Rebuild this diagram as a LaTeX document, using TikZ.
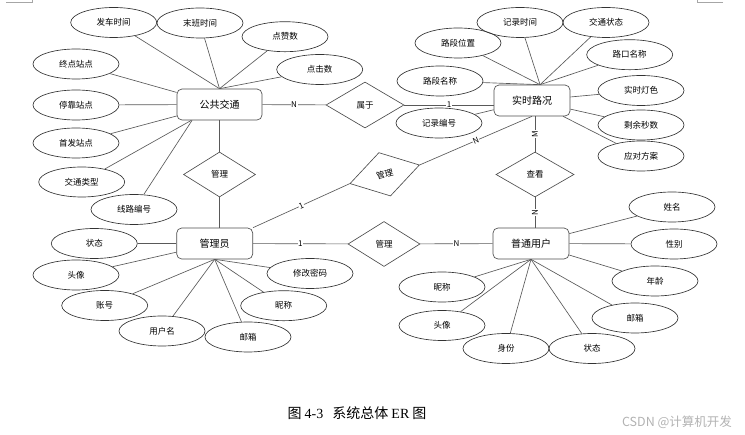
\documentclass[tikz,border=0pt]{standalone}
\usepackage{fontspec}
\setmainfont{Noto Sans CJK SC}
\newfontfamily\serifLatin{Liberation Serif}
\usetikzlibrary{shapes.geometric}

\begin{document}
\begin{tikzpicture}[x=1pt, y=-1pt, line width=0.65pt]

		%画像の大きさ
		\useasboundingbox (0,0) rectangle (745,435);
		\tikzset {
			styleEntity/.style= {
				draw=black!70, rounded corners=5pt, minimum width=76pt,
				minimum height=31pt, inner sep=0pt, font=\fontsize{10}{12}\selectfont
			},		%実体は角の丸い四角
			styleAttr/.style= {
				draw=black!80, ellipse, minimum width=86pt, minimum height=30pt,
				inner sep=0pt, font=\fontsize{8.5}{10}\selectfont
			},		%属性は楕円
			styleRel/.style= {
				draw=black!70, diamond, minimum width=72pt, minimum height=45pt,
				inner sep=0pt, font=\fontsize{8.5}{10}\selectfont
			},		%関係はひし形
			styleEdge/.style= { draw=black!65 },
			styleCard/.style= {
				fill=white, inner sep=0.5pt, font=\fontsize{8}{9}\selectfont
			}
		};

		%ページの角の印
		\draw[black!35, line width=0.8pt] (6,2.7) -- (32,2.7) -- (32,0);
		\draw[black!35, line width=0.8pt] (723,2.7) -- (697,2.7) -- (697,0);

		%実体
		\node[styleEntity, minimum width=85pt] (eBus) at (219.5,104.5) {公共交通};
		\node[styleEntity] (eRoad) at (532,100.5) {实时路况};
		\node[styleEntity] (eAdmin) at (214.7,243.5) {管理员};
		\node[styleEntity] (eUser) at (531,243.5) {普通用户};

		%関係
		\node[styleRel, minimum width=78pt, minimum height=46pt] (rBelong) at (365,105) {属于};
		\node[styleRel] (rManageBus) at (219.5,174.5) {管理};
		\node[styleRel, rotate=15] (rManageRoad) at (384.7,174.3) {管理};
		\node[styleRel, minimum width=78pt] (rView) at (535,174.5) {查看};
		\node[styleRel] (rManageUser) at (384,244) {管理};

		%関係の線
		\draw[styleEdge] (eBus) -- node[styleCard] {N} (rBelong);
		\draw[styleEdge] (rBelong.east) -- node[styleCard] {1} (rBelong.east -| eRoad.west);
		\draw[styleEdge] (rManageBus.north) -- (rManageBus.north |- eBus.south);
		\draw[styleEdge] (rManageBus.south) -- (rManageBus.south |- eAdmin.north);
		\draw[styleEdge] (eAdmin.north east) -- node[styleCard, sloped] {1} (rManageRoad.west);
		\draw[styleEdge] (rManageRoad.east) -- node[styleCard, sloped] {N} (eRoad.south);
		\draw[styleEdge] (rView.north |- eRoad.south) -- node[styleCard, rotate=90] {M} (rView.north);
		\draw[styleEdge] (rView.south) -- node[styleCard, rotate=90] {N} (rView.south |- eUser.north);
		\draw[styleEdge] (eAdmin) -- node[styleCard] {1} (rManageUser);
		\draw[styleEdge] (rManageUser) -- node[styleCard] {N} (eUser);

		%ループで属性を書く
		\foreach 
			\attrName/\x/\y/\attrText/\target in {
				bus1/113.7/22.5/发车时间/eBus.north,
				bus2/200/23/末班时间/eBus.north,
				bus3/285/36.7/点赞数/eBus.north,
				bus4/319.7/69.5/点击数/eBus.north,
				bus5/76/64/终点站点/eBus,
				bus6/76/105/停靠站点/eBus,
				bus7/76/143/首发站点/eBus,
				bus8/81.7/182/交通类型/eBus,
				bus9/134/209.5/线路编号/eBus.210,
				road1/520/22.5/记录时间/eRoad.63,
				road2/606/22.5/交通状态/eRoad.63,
				road3/458/43/路段位置/eRoad.63,
				road4/629.7/54.7/路口名称/eRoad.63,
				road5/440/81/路段名称/eRoad.63,
				road6/439/123/记录编号/eRoad,
				road7/641/90.5/实时灯色/eRoad,
				road8/641/125/剩余秒数/eRoad,
				road9/641/156/应对方案/eRoad,
				admin1/94.3/243.5/状态/eAdmin,
				admin2/76/275/头像/eAdmin,
				admin3/104.7/305.5/账号/eAdmin.south,
				admin4/162/331/用户名/eAdmin.south,
				admin5/248/337/邮箱/eAdmin.south,
				admin6/283.7/305.7/昵称/eAdmin.south,
				admin7/310/273.5/修改密码/eAdmin.south,
				user1/672/207/姓名/eUser,
				user2/674/244/性别/eUser,
				user3/655/281/年龄/eUser,
				user4/635/318/邮箱/eUser.south,
				user5/592/348.5/状态/eUser.south,
				user6/506/348.5/身份/eUser.south,
				user7/442/325.5/头像/eUser.south,
				user8/442/287/昵称/eUser.south} {
			\node[styleAttr] (a\attrName) at (\x,\y) {\attrText};
			\draw[styleEdge] (a\attrName) -- (\target);	%属性から実体へ
		}

		%図の名前
		\node[font=\fontsize{14}{16}\selectfont] (caption) at (357,413)
			{图 {\serifLatin 4-3}\hspace{9pt}系统总体 {\serifLatin ER} 图};
		\node[text=black!30, font=\fontsize{12.5}{14}\selectfont] (watermark) at (677,422)
			{CSDN @计算机开发};

	\end{tikzpicture}
\end{document}
